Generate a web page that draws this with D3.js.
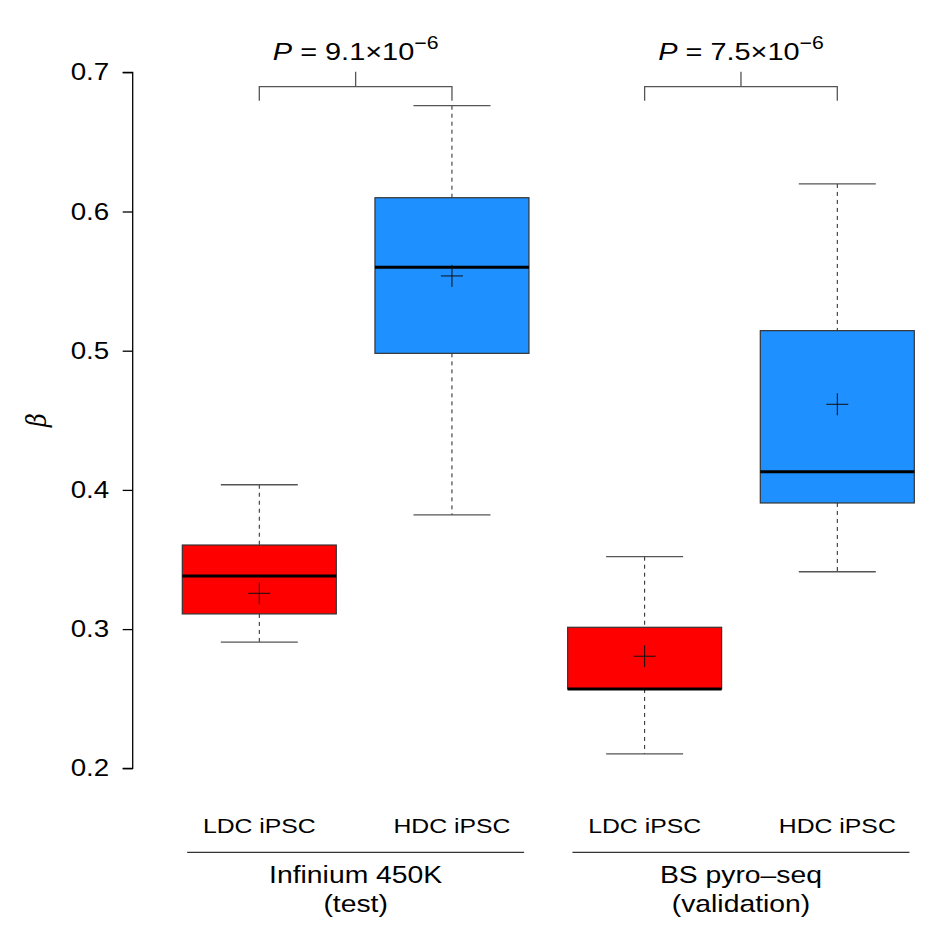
<!DOCTYPE html>
<html>
<head>
<meta charset="utf-8">
<script src="https://cdn.jsdelivr.net/npm/d3@7"></script>
<style>
  html, body { margin: 0; padding: 0; background: #fff; }
  svg text { font-family: "Liberation Sans", Arial, Helvetica, sans-serif; fill: #000; }
</style>
</head>
<body>
<div id="chart"></div>
<script>
// ---- data ----
const categories = ["LDC iPSC", "HDC iPSC", "LDC iPSC", "HDC iPSC"];
const groupLabels = [["Infinium 450K", "(test)"], ["BS pyro\u2013seq", "(validation)"]];
const whiskerLow  = [0.2907, 0.3820, 0.2103, 0.3412];
const q1          = [0.3109, 0.4981, 0.2570, 0.3906];
const medians     = [0.3381, 0.5599, 0.2570, 0.4131];
const q3          = [0.3604, 0.6099, 0.3013, 0.5144];
const whiskerHigh = [0.4037, 0.6760, 0.3520, 0.6198];
const means       = [0.3257, 0.5537, 0.2805, 0.4615];
const fillColors  = ["#ff0000", "#1e90ff", "#ff0000", "#1e90ff"];
const pMantissa   = ["9.1", "7.5"];
const pExponent   = ["\u22126", "\u22126"];
const yTicks      = [0.2, 0.3, 0.4, 0.5, 0.6, 0.7];

const W = 930, H = 935;
const SX = 1.18; // horizontal text stretch of the reference
const svg = d3.select("#chart").append("svg").attr("width", W).attr("height", H);

const y = d3.scaleLinear().domain([0.2, 0.7]).range([768.3, 72.3]);
const x = d3.scaleLinear().domain([0, 3]).range([259.3, 837.3]);
const boxW = 154, capW = 77;

function stext(px, py, size) {
  return svg.append("text")
    .attr("transform", `translate(${px},${py}) scale(${SX},1)`)
    .attr("text-anchor", "middle")
    .style("font-size", size + "px");
}

// y axis
const yAxis = d3.axisLeft(y).tickValues(yTicks).tickFormat(d3.format(".1f")).tickSize(10).tickPadding(12);
const gy = svg.append("g").attr("transform", "translate(132.7,0)").call(yAxis);
gy.select(".domain").attr("stroke", "#000").attr("stroke-width", 1.3).attr("d", `M-10,${y(0.7)}H0V${y(0.2)}H-10`);
gy.selectAll(".tick line").attr("stroke", "#000").attr("stroke-width", 1.3);
gy.selectAll(".tick text")
  .attr("x", -23.5 / SX)
  .attr("transform", `scale(${SX},1)`)
  .style("font-size", "23.5px")
  .style("font-family", '"Liberation Sans", Arial, sans-serif')
  .attr("fill", "#000");

// y label (beta)
svg.append("text")
  .attr("transform", "translate(46,420) rotate(-90) scale(1,1.15)")
  .attr("text-anchor", "middle")
  .style("font-size", "24px")
  .style("font-style", "italic")
  .style("font-family", '"DejaVu Serif", "Liberation Serif", serif')
  .text("\u03b2");

// boxes
const boxes = svg.append("g");
categories.forEach((c, i) => {
  const cx = x(i);
  const g = boxes.append("g");
  g.append("line").attr("x1", cx).attr("x2", cx).attr("y1", y(whiskerHigh[i])).attr("y2", y(q3[i]))
    .attr("stroke", "#222").attr("stroke-width", 1).attr("stroke-dasharray", "4,4");
  g.append("line").attr("x1", cx).attr("x2", cx).attr("y1", y(q1[i])).attr("y2", y(whiskerLow[i]))
    .attr("stroke", "#222").attr("stroke-width", 1).attr("stroke-dasharray", "4,4");
  [whiskerHigh[i], whiskerLow[i]].forEach(v => {
    g.append("line").attr("x1", cx - capW / 2).attr("x2", cx + capW / 2).attr("y1", y(v)).attr("y2", y(v))
      .attr("stroke", "#555").attr("stroke-width", 1.3);
  });
  g.append("rect").attr("x", cx - boxW / 2).attr("width", boxW)
    .attr("y", y(q3[i])).attr("height", y(q1[i]) - y(q3[i]))
    .attr("fill", fillColors[i]).attr("stroke", "#333").attr("stroke-width", 1.2);
  g.append("line").attr("x1", cx - boxW / 2).attr("x2", cx + boxW / 2)
    .attr("y1", y(medians[i])).attr("y2", y(medians[i]))
    .attr("stroke", "#000").attr("stroke-width", 3);
  const m = y(means[i]);
  g.append("line").attr("x1", cx - 11).attr("x2", cx + 11).attr("y1", m).attr("y2", m).attr("stroke", "#111").attr("stroke-width", 1);
  g.append("line").attr("x1", cx).attr("x2", cx).attr("y1", m - 11).attr("y2", m + 11).attr("stroke", "#111").attr("stroke-width", 1);
  stext(cx, 833, 21).text(c);
});

// group lines and labels
groupLabels.forEach((lab, k) => {
  const gx = (x(2 * k) + x(2 * k + 1)) / 2;
  svg.append("line").attr("x1", gx - 168.5).attr("x2", gx + 168.5).attr("y1", 852.3).attr("y2", 852.3)
    .attr("stroke", "#000").attr("stroke-width", 1);
  lab.forEach((t, j) => {
    stext(gx, 883 + j * 29, 24).text(t);
  });
  const xa = x(2 * k), xb = x(2 * k + 1);
  svg.append("path")
    .attr("d", `M${xa},100.7V86.7H${xb}V100.7M${gx},86.7V71.7`)
    .attr("fill", "none").attr("stroke", "#555").attr("stroke-width", 1.3);
  const t = stext(gx, 59.5, 24.5);
  t.append("tspan").style("font-style", "italic").text("P");
  t.append("tspan").text(" = " + pMantissa[k] + "\u00d710");
  t.append("tspan").attr("dy", -11).style("font-size", "18px").text(pExponent[k]);
});
</script>
</body>
</html>
